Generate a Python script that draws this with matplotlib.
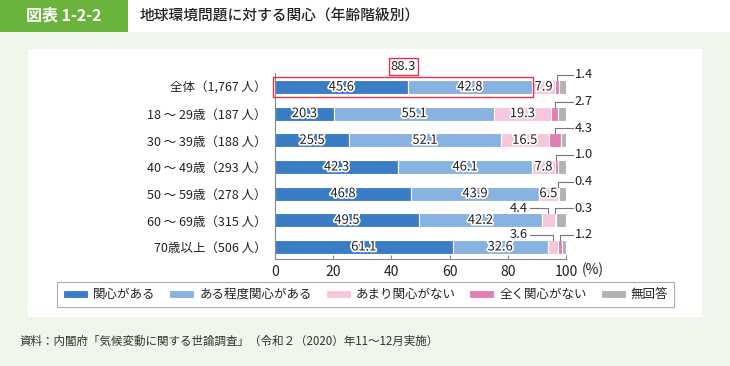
import matplotlib.pyplot as plt
import matplotlib.patheffects as pe
from matplotlib.patches import Rectangle
import numpy as np

plt.rcParams['font.family'] = ['Noto Sans CJK JP', 'DejaVu Sans']

# data
groups = ['全体（1,767 人）', '18 ～ 29歳（187 人）', '30 ～ 39歳（188 人）',
          '40 ～ 49歳（293 人）', '50 ～ 59歳（278 人）', '60 ～ 69歳（315 人）',
          '70歳以上（506 人）']
kanshin_aru = [45.6, 20.3, 25.5, 42.3, 46.8, 49.5, 61.1]
teido_aru = [42.8, 55.1, 52.1, 46.1, 43.9, 42.2, 32.6]
amari_nai = [7.9, 19.3, 16.5, 7.8, 6.5, 4.4, 3.6]
mattaku_nai = [1.4, 2.7, 4.3, 1.0, 0.4, 0.3, 1.2]
mukaitou = [2.3, 2.6, 1.6, 2.8, 2.4, 3.6, 1.5]
total_interest = 88.3

series_names = ['関心がある', 'ある程度関心がある', 'あまり関心がない', '全く関心がない', '無回答']
series = [kanshin_aru, teido_aru, amari_nai, mattaku_nai, mukaitou]
colors = ['#3a7dc4', '#88b3e0', '#f6c6dc', '#e27fb2', '#b2b2b2']
xticks = [0, 20, 40, 60, 80, 100]

W, H = 730, 366
fig = plt.figure(figsize=(W / 100, H / 100), dpi=100)
fig.patch.set_facecolor('white')


def fx(x):
    return x / W


def fy(y):
    return 1 - y / H


# background panels
fig.patches.append(Rectangle((0, 0), 1, fy(32), transform=fig.transFigure,
                             facecolor='#f0f6e9', edgecolor='none', zorder=-3))
fig.patches.append(Rectangle((fx(28), fy(317)), fx(702 - 28), (317 - 49) / H,
                             transform=fig.transFigure, facecolor='white',
                             edgecolor='none', zorder=-2))
fig.patches.append(Rectangle((0, fy(32)), fx(128), 32 / H, transform=fig.transFigure,
                             facecolor='#6ab43e', edgecolor='none', zorder=-2))
fig.text(fx(64), fy(16), '図表 1-2-2', color='white', fontsize=11.5,
         fontweight='bold', ha='center', va='center')
fig.text(fx(140), fy(16), '地球環境問題に対する関心（年齢階級別）', color='#222222',
         fontsize=10.6, fontweight='medium', ha='left', va='center')
fig.text(fx(19), fy(341), '資料：内閣府「気候変動に関する世論調査」（令和２（2020）年11～12月実施）',
         color='#333333', fontsize=8.3, ha='left', va='center')

ax = fig.add_axes([fx(275), fy(259), fx(566 - 275), (259 - 73) / H])
ax.set_facecolor('none')

y = np.arange(len(groups))
left = np.zeros(len(groups))
stroke = [pe.withStroke(linewidth=2.5, foreground='white')]
for name, vals, c in zip(series_names, series, colors):
    vals = np.array(vals)
    ax.barh(y, vals, left=left, height=0.52, color=c, edgecolor='white',
            linewidth=0.8, label=name)
    if name in ('関心がある', 'ある程度関心がある', 'あまり関心がない'):
        for i, v in enumerate(vals):
            if v >= 5:
                ax.text(left[i] + v / 2, y[i], f'{v:.1f}', ha='center', va='center',
                        fontsize=9.3, color='#222222', path_effects=stroke)
    left = left + vals

# leader lines for small values
lead_y = -0.45
line_kw = dict(color='#777777', lw=0.8, clip_on=False)
start_amari = np.array(kanshin_aru) + np.array(teido_aru)
start_mattaku = start_amari + np.array(amari_nai)
for i in range(len(groups)):
    if amari_nai[i] < 5:
        cx = start_amari[i] + amari_nai[i] / 2
        ax.plot([87.5, cx, cx], [y[i] + lead_y, y[i] + lead_y, y[i] - 0.26], **line_kw)
        ax.text(87, y[i] + lead_y, f'{amari_nai[i]:.1f}', ha='right', va='center',
                fontsize=9.3, color='#222222')
    cx = start_mattaku[i] + mattaku_nai[i] / 2
    ax.plot([102.5, cx, cx], [y[i] + lead_y, y[i] + lead_y, y[i] - 0.26], **line_kw)
    ax.text(103, y[i] + lead_y, f'{mattaku_nai[i]:.1f}', ha='left', va='center',
            fontsize=9.3, color='#222222')

# red box around 全体
ax.add_patch(Rectangle((-0.8, -0.38), total_interest + 1.3, 0.76, fill=False,
                       edgecolor='#e8334a', lw=1.0, clip_on=False, zorder=5))
ax.text(total_interest / 2, -0.78, f'{total_interest:.1f}', ha='center', va='center',
        fontsize=9.3, color='#222222',
        bbox=dict(boxstyle='square,pad=0.15', facecolor='white', edgecolor='#e8334a', lw=1.0))

ax.set_xlim(0, 100)
ax.set_ylim(6.45, -0.525)
ax.set_yticks(y)
ax.set_yticklabels(groups, fontsize=9, color='#222222')
ax.set_xticks(xticks)
ax.set_xticklabels([str(t) for t in xticks], fontsize=10, color='#222222')
ax.tick_params(axis='y', length=0, pad=6)
ax.tick_params(axis='x', direction='in', length=3, color='#888888', pad=4)
for s in ('top', 'right'):
    ax.spines[s].set_visible(False)
for s in ('left', 'bottom'):
    ax.spines[s].set_color('#888888')
    ax.spines[s].set_linewidth(0.8)
ax.text(105.3, 6.87, '(%)', ha='left', va='center', fontsize=10, color='#222222')

handles, labels = ax.get_legend_handles_labels()
leg = fig.legend(handles, labels, ncol=5, loc='center', bbox_to_anchor=(fx(365.5), fy(294.5)),
                 frameon=True, fancybox=False, edgecolor='#999999', fontsize=9,
                 handlelength=2.0, handleheight=0.6, columnspacing=1.1, handletextpad=0.4,
                 borderpad=0.5)
leg.get_frame().set_linewidth(0.8)
for t in leg.get_texts():
    t.set_color('#222222')

fig.savefig('out.png', dpi=100)
